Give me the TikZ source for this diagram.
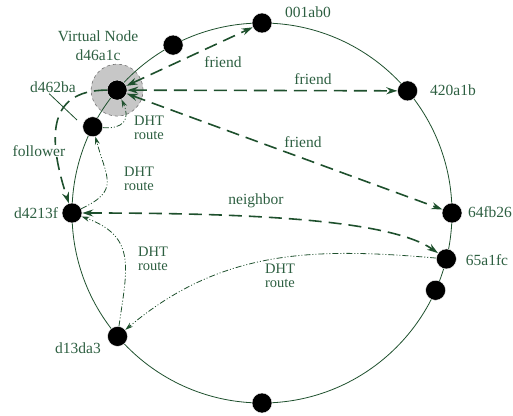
\documentclass[tikz,border=0pt]{standalone}
\usepackage{fontspec}
\setmainfont{Liberation Serif}
\usetikzlibrary{arrows.meta}
\definecolor{ring}{RGB}{30,80,45}
\definecolor{ink}{RGB}{45,95,65}

\begin{document}
\begin{tikzpicture}[x=1pt, y=1pt,
  peer/.style={circle, fill=black, draw=white, line width=0.4pt, minimum size=20pt, inner sep=0pt},
  halo/.style={circle, fill=black!22, draw=black!55, dashed, line width=0.6pt, minimum size=52pt, inner sep=0pt},
  lbl/.style={text=ink, font=\fontsize{15.5}{19}\selectfont, inner sep=1pt},
  rlbl/.style={text=ink, font=\fontsize{14.5}{14}\selectfont, align=center, inner sep=1pt},
  link/.style={ring, line width=1.6pt, dash pattern=on 13pt off 7pt,
    {Stealth[length=11pt,width=7pt]}-{Stealth[length=11pt,width=7pt]}},
  follow/.style={ring, line width=1.6pt, dash pattern=on 13pt off 7pt,
    -{Stealth[length=11pt,width=7pt]}},
  route/.style={ring, line width=0.8pt, dash pattern=on 6pt off 2pt on 1pt off 2pt on 1pt off 2pt,
    -{Stealth[length=8pt,width=5pt]}}]
  \useasboundingbox (-262,-202) rectangle (251,213);
  % Virtual node halo
  \node[halo] (vhalo) at (139.7:190) {};
  % Ring
  \draw[ring, line width=0.8pt] (0,0) circle (190);
  % Peers on the ring
  \node[peer] (n001ab0) at (90:190) {};
  \node[peer] (na) at (117.9:190) {};
  \node[peer] (nd46a1c) at (139.7:190) {};
  \node[peer] (nd462ba) at (153:190) {};
  \node[peer] (nd4213f) at (180:190) {};
  \node[peer] (nd13da3) at (220.5:190) {};
  \node[peer] (nc) at (270:190) {};
  \node[peer] (nb) at (-24:190) {};
  \node[peer] (n65a1fc) at (-14:190) {};
  \node[peer] (n64fb26) at (0:190) {};
  \node[peer] (n420a1b) at (40:190) {};
  % Peer ids
  \node[lbl] (t001ab0) at (46,201) {001ab0};
  \node[lbl] (t420a1b) at (191,123) {420a1b};
  \node[lbl] (t64fb26) at (228,1) {64fb26};
  \node[lbl] (t65a1fc) at (225,-47) {65a1fc};
  \node[lbl] (td4213f) at (-226,0) {d4213f};
  \node[lbl] (td13da3) at (-184,-135) {d13da3};
  \node[lbl, align=center] (tvirt) at (-164,167) {Virtual Node\\d46a1c};
  \node[lbl] (td462ba) at (-209,126) {d462ba};
  \coordinate (pd462ba) at (-185,93);
  \draw[ring, line width=0.8pt] (td462ba.240) -- (pd462ba);
  % Friend links
  \draw[link] (nd46a1c) -- (n001ab0);
  \draw[link] (nd46a1c) -- (n420a1b);
  \draw[link] (nd46a1c) -- (n64fb26);
  \node[lbl] (tf1) at (-39,151) {friend};
  \node[lbl] (tf2) at (51,134) {friend};
  \node[lbl] (tf3) at (41,71) {friend};
  % Neighbor and follower
  \draw[link] (nd4213f) .. controls +(0:170) and +(145:70) .. (n65a1fc);
  \node[lbl] (tnb) at (-6,12) {neighbor};
  \draw[follow] (nd46a1c) to[out=180, in=108, looseness=1.35] (nd4213f);
  \node[lbl, fill=white, inner sep=0.5pt] (tfol) at (-223,62) {follower};
  % DHT routing path
  \draw[route] (n65a1fc) to[out=175, in=40] (nd13da3);
  \draw[route] (nd13da3) to[out=82, in=-20, looseness=1.3] (nd4213f);
  \draw[route] (nd4213f) to[out=25, in=-75, looseness=1.5] (nd462ba);
  \draw[route] (nd462ba) to[out=-5, in=-65, looseness=1.6] (nd46a1c);
  \node[rlbl] (tr1) at (-113,85) {DHT\\route};
  \node[rlbl] (tr2) at (-123,34) {DHT\\route};
  \node[rlbl] (tr3) at (-109,-46) {DHT\\route};
  \node[rlbl] (tr4) at (18,-63) {DHT\\route};
\end{tikzpicture}
\end{document}
